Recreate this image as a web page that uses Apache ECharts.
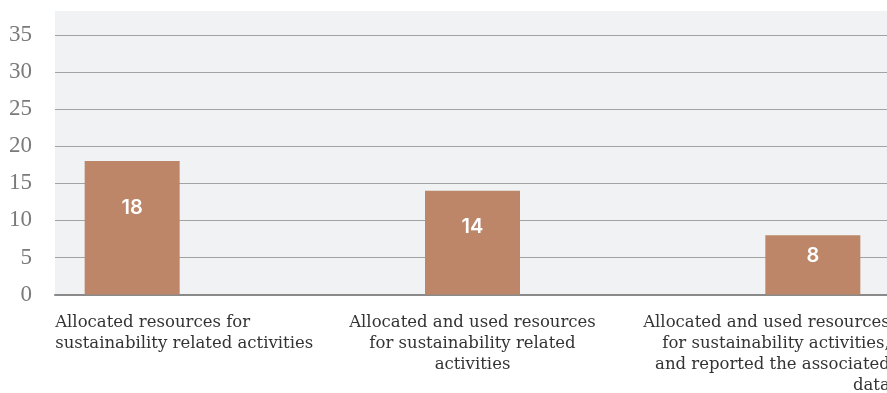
<!DOCTYPE html>
<html>
<head>
<meta charset="utf-8">
<script src="https://cdn.jsdelivr.net/npm/echarts@6/dist/echarts.min.js"></script>
<style>
html,body{margin:0;padding:0;background:#fff;}
#chart{width:887px;height:393px;}
</style>
</head>
<body>
<div id="chart"></div>
<script>
const categories = [
  "Allocated resources for\nsustainability related activities",
  "Allocated and used resources\nfor sustainability related\nactivities",
  "Allocated and used resources\nfor sustainability activities,\nand reported the associated\ndata"
];
const values = [18, 14, 8];
const yTicks = [0, 5, 10, 15, 20, 25, 30, 35];

const BAR_COLOR = '#bd8668';
const Y_MAX = 38.2;
const catAlign = ['left', 'center', 'right'];
const catPad = [[0,0,0,-77],[0,0,0,0],[0,-77,0,0]];

const chart = echarts.init(document.getElementById('chart'), null, {renderer: 'canvas'});
chart.setOption({
  animation: false,
  backgroundColor: '#ffffff',
  grid: [
    {left: 55, right: -5, top: 11, bottom: 98.4, show: true, backgroundColor: '#f1f2f4', borderWidth: 0, outerBoundsMode: 'none'},
    {left: -38, right: -96, top: 11, bottom: 98.4, outerBoundsMode: 'none'}
  ],
  xAxis: [
    {gridIndex: 0, type: 'value', min: 0, max: 1, axisLabel: {show: false}, axisTick: {show: false}, splitLine: {show: false},
     axisLine: {show: true, lineStyle: {color: '#8a8a8a', width: 2}}},
    {gridIndex: 1, type: 'category',
     data: categories.map((c, i) => ({value: c, textStyle: {align: catAlign[i], padding: catPad[i]}})),
     axisLine: {show: false}, axisTick: {show: false},
     axisLabel: {interval: 0, margin: 18, fontFamily: 'DejaVu Serif', fontSize: 16.5, lineHeight: 21, color: '#333333', verticalAlign: 'top'}}
  ],
  yAxis: [
    {gridIndex: 0, type: 'value', min: 0, max: Y_MAX, interval: 5,
     axisLine: {show: false}, axisTick: {show: false},
     axisLabel: {showMaxLabel: false, margin: 23, fontFamily: 'Liberation Serif', fontSize: 23, color: '#7a7a7a', padding: [0,0,4,0],
       formatter: v => yTicks.includes(v) ? String(v) : ''},
     splitLine: {show: true, showMinLine: false, showMaxLine: false, lineStyle: {color: '#a3a3a3', width: 1.2}}},
    {gridIndex: 1, type: 'value', min: 0, max: Y_MAX, interval: 5, show: false, splitLine: {show: false}}
  ],
  series: [{
    type: 'bar', xAxisIndex: 1, yAxisIndex: 1,
    data: values,
    barWidth: 95,
    itemStyle: {color: BAR_COLOR},
    label: {show: true, position: ['50%', '35%'], align: 'center', verticalAlign: 'middle',
      color: '#ffffff', fontFamily: 'Inter', fontWeight: 600, fontSize: 20}
  }]
});
</script>
</body>
</html>
